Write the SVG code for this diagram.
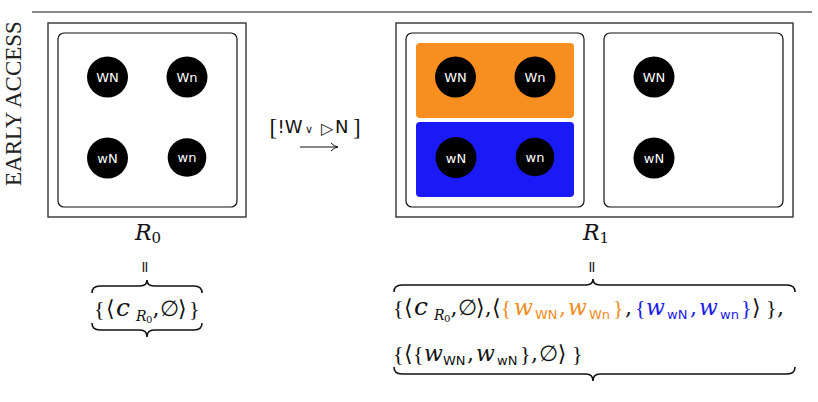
<svg xmlns="http://www.w3.org/2000/svg" width="818" height="402" viewBox="0 0 818 402">
<style>
.outer{fill:#fff;stroke:#333;stroke-width:1.4}
.inner{fill:#fff;stroke:#111;stroke-width:1.2}
.dot{fill:#000}
.lbl{font-family:"DejaVu Sans",sans-serif;font-size:13px;fill:#fff;text-anchor:middle}
.m{font-family:"DejaVu Serif",serif;font-size:22px;fill:#111}
.b{font-family:"Liberation Serif",serif}
.i{font-style:italic}
.c{font-style:italic;font-size:25px}
.s{font-family:"DejaVu Sans",sans-serif;font-size:13px}
.si{font-style:italic;font-size:14px}
.ss{font-size:10px}
.or{fill:#F28C1C}
.bl{fill:#1A1AE8}
.brace{fill:none;stroke:#111;stroke-width:1.6}
.eq{font-family:"DejaVu Sans",sans-serif;font-size:16px;fill:#222}
</style>
<text transform="translate(21,186) rotate(-90)" font-family="Liberation Serif, serif" font-size="23" fill="#222">EARLY ACCESS</text>
<line x1="32" y1="12" x2="812" y2="12" stroke="#111" stroke-width="1.2"/>

<g id="R0">
<rect class="outer" x="48" y="23" width="198" height="194"/>
<rect class="inner" x="58" y="33" width="179" height="174" rx="6"/>
<g id="r0-WN"><circle class="dot" cx="107.5" cy="77" r="20.5"/><text class="lbl" x="107.5" y="82">WN</text></g>
<g id="r0-Wn"><circle class="dot" cx="187" cy="77" r="20.5"/><text class="lbl" x="187" y="82">Wn</text></g>
<g id="r0-wN"><circle class="dot" cx="107.5" cy="158" r="20.5"/><text class="lbl" x="107.5" y="163">wN</text></g>
<g id="r0-wn"><circle class="dot" cx="187" cy="157.5" r="19.3"/><text class="lbl" x="187" y="162">wn</text></g>
<text class="m i" x="135" y="240">R<tspan font-style="normal" font-size="15" dy="3">0</tspan></text>
</g>

<g id="R1">
<rect class="outer" x="396" y="23" width="397" height="194"/>
<rect class="inner" x="406" y="33" width="178" height="174" rx="6"/>
<rect class="inner" x="604" y="33" width="179" height="174" rx="6"/>
<rect x="416" y="43" width="158" height="75" rx="4" fill="#F88E1F"/>
<rect x="416" y="122" width="158" height="75" rx="4" fill="#1A1AF6"/>
<g id="r1-WN"><circle class="dot" cx="455.5" cy="77" r="20.5"/><text class="lbl" x="455.5" y="82">WN</text></g>
<g id="r1-Wn"><circle class="dot" cx="535" cy="77" r="20.5"/><text class="lbl" x="535" y="82">Wn</text></g>
<g id="r1-wN"><circle class="dot" cx="456" cy="157.5" r="20.5"/><text class="lbl" x="456" y="162.5">wN</text></g>
<g id="r1-wn"><circle class="dot" cx="535" cy="157" r="19.3"/><text class="lbl" x="535" y="161.5">wn</text></g>
<g id="r1-WN2"><circle class="dot" cx="654" cy="77" r="20.5"/><text class="lbl" x="654" y="82">WN</text></g>
<g id="r1-wN2"><circle class="dot" cx="654" cy="158" r="20.5"/><text class="lbl" x="654" y="163">wN</text></g>
<text class="m i" x="583" y="240">R<tspan font-style="normal" font-size="15" dy="3">1</tspan></text>
</g>

<g id="connectors">
<text font-family="DejaVu Sans, sans-serif" font-size="18" fill="#111"><tspan x="269.5" y="135" font-family="Liberation Serif, serif" font-size="23">[</tspan><tspan x="277.5" y="133">!W</tspan><tspan x="305" y="133" font-size="11">∨</tspan><tspan x="321" y="134" font-size="16">▷</tspan><tspan x="335" y="133">N</tspan><tspan x="353" y="135" font-family="Liberation Serif, serif" font-size="23">]</tspan></text>
<line x1="300" y1="147" x2="337" y2="147" stroke="#111" stroke-width="1"/>
<path d="M331,143 Q334,146.3 338,147 Q334,147.7 331,151" fill="none" stroke="#111" stroke-width="1"/>
</g>

<g id="set0">
<text class="eq" transform="translate(139.5,267) rotate(90)" text-anchor="middle">=</text>
<path class="brace" d="M92,293 Q92,286 100,286 L140,286 Q147,286 147,280 Q147,286 154,286 L194,286 Q202,286 202,293"/>
<path class="brace" d="M92,323 Q92,330 100,330 L140,330 Q147,330 147,337 Q147,330 154,330 L194,330 Q202,330 202,323"/>
<text class="m"><tspan class="b" x="94" y="316">{</tspan><tspan x="106" y="316">⟨</tspan><tspan class="c" x="116" y="316">c</tspan><tspan class="si" x="136" y="321">R</tspan><tspan class="ss" x="146" y="323">0</tspan><tspan x="152.5" y="316">,</tspan><tspan x="159.5" y="316">∅</tspan><tspan x="178" y="316">⟩</tspan><tspan class="b" x="189" y="316">}</tspan></text>
</g>

<g id="set1">
<text class="eq" transform="translate(586.5,267) rotate(90)" text-anchor="middle">=</text>
<path class="brace" d="M394,292 Q394,285 402,285 L586,285 Q593,285 593,279 Q593,285 600,285 L787,285 Q795,285 795,292"/>
<path class="brace" d="M394,367 Q394,374 402,374 L586,374 Q593,374 593,381 Q593,374 600,374 L787,374 Q795,374 795,367"/>
<text class="m"><tspan class="b" x="393" y="315">{</tspan><tspan x="404" y="315">⟨</tspan><tspan class="c" x="414" y="315">c</tspan><tspan class="si" x="434" y="320">R</tspan><tspan class="ss" x="444" y="322">0</tspan><tspan x="450.5" y="315">,</tspan><tspan x="457.5" y="315">∅</tspan><tspan x="476" y="315">⟩</tspan><tspan x="484.8" y="315">,</tspan><tspan x="492" y="315">⟨</tspan><tspan class="b or" x="500.8" y="315">{</tspan><tspan class="i or" x="514" y="315">w</tspan><tspan class="s or" x="535" y="319">WN</tspan><tspan class="or" x="559" y="315">,</tspan><tspan class="i or" x="568" y="315">w</tspan><tspan class="s or" x="589" y="319">Wn</tspan><tspan class="b or" x="613" y="315">}</tspan><tspan x="625" y="315">,</tspan><tspan class="b bl" x="635" y="315">{</tspan><tspan class="i bl" x="646" y="315">w</tspan><tspan class="s bl" x="667" y="319">wN</tspan><tspan class="bl" x="690" y="315">,</tspan><tspan class="i bl" x="699" y="315">w</tspan><tspan class="s bl" x="720" y="319">wn</tspan><tspan class="b bl" x="741" y="315">}</tspan><tspan x="752" y="315">⟩</tspan><tspan class="b" x="766" y="315">}</tspan><tspan x="777" y="315">,</tspan></text>
<text class="m"><tspan class="b" x="393" y="361">{</tspan><tspan x="404" y="361">⟨</tspan><tspan class="b" x="413" y="361">{</tspan><tspan class="i" x="424" y="361">w</tspan><tspan class="s" x="443" y="365">WN</tspan><tspan x="467" y="361">,</tspan><tspan class="i" x="476" y="361">w</tspan><tspan class="s" x="497" y="365">wN</tspan><tspan class="b" x="520" y="361">}</tspan><tspan x="531" y="361">,</tspan><tspan x="539" y="361">∅</tspan><tspan x="557.8" y="361">⟩</tspan><tspan class="b" x="572" y="361">}</tspan></text>
</g>
</svg>
